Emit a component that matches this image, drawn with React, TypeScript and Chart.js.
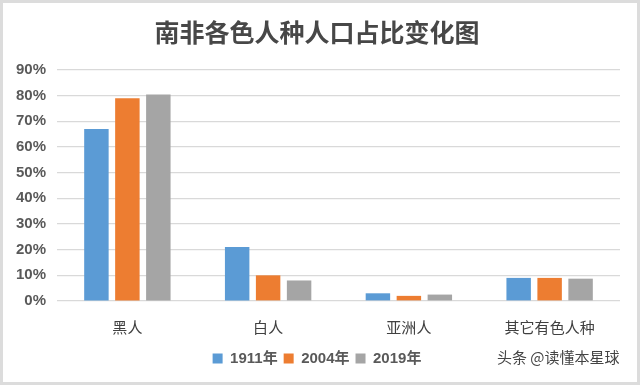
import React, { useEffect, useRef } from "react";
import { Chart, registerables } from "chart.js";

Chart.register(...registerables);

const categories = ["黑人", "白人", "亚洲人", "其它有色人种"];
const seriesNames = ["1911年", "2004年", "2019年"];
const values1911 = [67, 21, 3, 9];
const values2004 = [79, 10, 2, 9];
const values2019 = [80.5, 8, 2.5, 8.7];
const seriesColors = ["#5b9bd5", "#ed7d31", "#a5a5a5"];
const yTicks = [0, 10, 20, 30, 40, 50, 60, 70, 80, 90];
const titleText = "南非各色人种人口占比变化图";
const watermark = "头条 @读懂本星球";

const FONT = "'Liberation Sans', Arial, 'Noto Sans CJK SC', sans-serif";

export default function App() {
  const ref = useRef<HTMLCanvasElement | null>(null);

  useEffect(() => {
    document.body.style.margin = "0";
    const ctx = ref.current;
    if (!ctx) return;
    const chart = new Chart(ctx, {
      type: "bar",
      data: {
        labels: categories,
        datasets: [values1911, values2004, values2019].map((d, i) => ({
          label: seriesNames[i],
          data: d,
          backgroundColor: seriesColors[i],
          borderWidth: 0,
          barPercentage: 0.79,
          categoryPercentage: 0.66,
        })),
      },
      options: {
        animation: false,
        responsive: false,
        maintainAspectRatio: false,
        layout: { padding: { left: 14, right: 20, top: 0, bottom: 9 } },
        plugins: {
          title: {
            display: true,
            text: titleText,
            color: "#474747",
            font: { family: "'Noto Sans CJK SC', sans-serif", size: 25, weight: "bold" },
            padding: { top: 17, bottom: 23 },
          },
          legend: {
            position: "bottom",
            labels: {
              boxWidth: 10,
              boxHeight: 10,
              color: "#595959",
              font: { family: FONT, size: 15, weight: "bold" },
              padding: 6,
            },
          },
          tooltip: { enabled: false },
        },
        scales: {
          x: {
            grid: { display: false },
            border: { display: false },
            ticks: {
              color: "#404040",
              font: { family: "'Noto Sans CJK SC', sans-serif", size: 15 },
              padding: 9,
            },
          },
          y: {
            min: 0,
            max: 90,
            afterBuildTicks: (axis: any) => {
              axis.ticks = yTicks.map((v) => ({ value: v }));
            },
            afterFit: (axis: any) => {
              axis.width = 43;
            },
            grid: { color: "#d9d9d9", lineWidth: 1.2, drawTicks: false },
            border: { display: false },
            ticks: {
              color: "#595959",
              font: { family: FONT, size: 15, weight: "bold" },
              padding: 11,
              callback: (v: any) => v + "%",
            },
          },
        },
      },
    });
    return () => chart.destroy();
  }, []);

  return (
    <div
      style={{
        position: "relative",
        width: 640,
        height: 385,
        boxShadow: "inset 0 0 0 3px #dcdcdc",
        background: "#fff",
      }}
    >
      <canvas ref={ref} width={640} height={385} style={{ display: "block" }} />
      <div
        style={{
          position: "absolute",
          left: 497,
          top: 346,
          fontFamily: "'Noto Sans CJK SC', sans-serif",
          fontSize: 15,
          color: "#444",
          whiteSpace: "nowrap",
        }}
      >
        {watermark}
      </div>
    </div>
  );
}
